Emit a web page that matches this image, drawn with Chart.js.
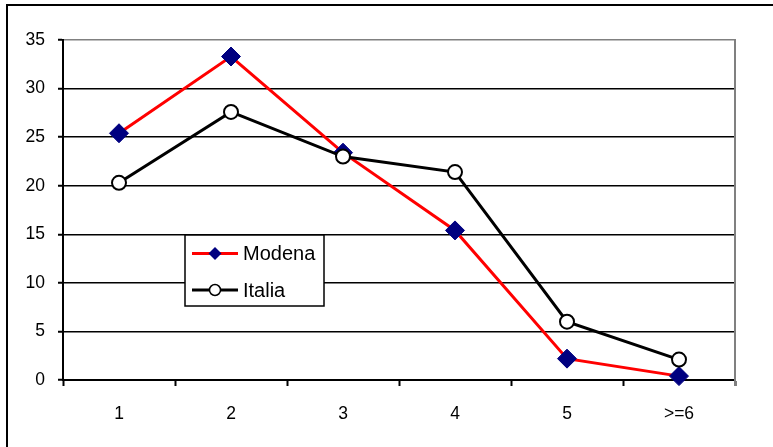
<!DOCTYPE html>
<html>
<head>
<meta charset="utf-8">
<script src="https://cdn.jsdelivr.net/npm/chart.js@4/dist/chart.umd.min.js"></script>
<style>
  html, body { margin: 0; padding: 0; background: #fff; }
  #wrap { width: 773px; height: 447px; }
</style>
</head>
<body>
<div id="wrap"><canvas id="c" width="773" height="447"></canvas></div>
<script>
// Categories and series
const categories = ['1', '2', '3', '4', '5', '>=6'];
const modena = [25.4, 33.3, 23.4, 15.4, 2.2, 0.4];
const italia = [20.3, 27.6, 23.0, 21.4, 6.0, 2.1];
const seriesNames = ['Modena', 'Italia'];
const yTicks = [0, 5, 10, 15, 20, 25, 30, 35];

const FONT = '"Liberation Sans", Arial, sans-serif';

// White page with the outer frame (top and left edges)
const frame = {
  id: 'frame',
  beforeDraw(chart) {
    const ctx = chart.ctx;
    ctx.save();
    ctx.fillStyle = '#fff';
    ctx.fillRect(0, 0, chart.width, chart.height);
    ctx.strokeStyle = '#000';
    ctx.lineWidth = 2;
    ctx.beginPath();
    ctx.moveTo(7, chart.height);
    ctx.lineTo(7, 5);
    ctx.lineTo(chart.width, 5);
    ctx.stroke();
    ctx.restore();
  },
  afterDatasetsDraw(chart) {
    // grey right edge of the plot area
    const a = chart.chartArea;
    const ctx = chart.ctx;
    ctx.save();
    ctx.strokeStyle = '#808080';
    ctx.lineWidth = 2;
    ctx.beginPath();
    ctx.moveTo(a.right, a.top - 1);
    ctx.lineTo(a.right, a.bottom + 6);
    ctx.stroke();
    ctx.restore();
  }
};

// Boxed legend with line + marker samples, placed inside the plot
const boxLegend = {
  id: 'boxLegend',
  afterDraw(chart) {
    const a = chart.chartArea;
    const ctx = chart.ctx;
    const x0 = a.left + 122, y0 = a.top + 195, w = 139, h = 71;
    ctx.save();
    ctx.fillStyle = '#fff';
    ctx.fillRect(x0, y0, w, h);
    ctx.strokeStyle = '#000';
    ctx.lineWidth = 1.5;
    ctx.strokeRect(x0, y0, w, h);
    const rows = [y0 + 18.5, y0 + 55];
    chart.data.datasets.forEach((ds, i) => {
      const y = rows[i];
      const lx1 = x0 + 7, lx2 = x0 + 53, cx = (lx1 + lx2) / 2;
      ctx.strokeStyle = ds.borderColor;
      ctx.lineWidth = 3;
      ctx.beginPath();
      ctx.moveTo(lx1, y);
      ctx.lineTo(lx2, y);
      ctx.stroke();
      if (ds.pointStyle === 'rectRot') {
        const r = 6.5;
        ctx.fillStyle = ds.pointBackgroundColor;
        ctx.beginPath();
        ctx.moveTo(cx, y - r);
        ctx.lineTo(cx + r, y);
        ctx.lineTo(cx, y + r);
        ctx.lineTo(cx - r, y);
        ctx.closePath();
        ctx.fill();
      } else {
        ctx.fillStyle = ds.pointBackgroundColor;
        ctx.strokeStyle = ds.pointBorderColor;
        ctx.lineWidth = 1.5;
        ctx.beginPath();
        ctx.arc(cx, y, 5.5, 0, Math.PI * 2);
        ctx.fill();
        ctx.stroke();
      }
      ctx.fillStyle = '#000';
      ctx.font = '20px ' + FONT;
      ctx.textAlign = 'left';
      ctx.textBaseline = 'middle';
      ctx.fillText(ds.label, x0 + 58, y + 1);
    });
    ctx.restore();
  }
};

new Chart(document.getElementById('c'), {
  type: 'line',
  data: {
    labels: categories,
    datasets: [
      {
        label: seriesNames[0],
        data: modena,
        borderColor: '#ff0000',
        borderWidth: 3,
        tension: 0,
        pointStyle: 'rectRot',
        pointRadius: 9.5,
        pointBackgroundColor: '#000080',
        pointBorderColor: '#000080',
        pointBorderWidth: 1,
        clip: false,
        order: 1
      },
      {
        label: seriesNames[1],
        data: italia,
        borderColor: '#000000',
        borderWidth: 3,
        tension: 0,
        pointStyle: 'circle',
        pointRadius: 7,
        pointBackgroundColor: '#ffffff',
        pointBorderColor: '#000000',
        pointBorderWidth: 2,
        clip: false,
        order: 0
      }
    ]
  },
  options: {
    responsive: false,
    animation: false,
    devicePixelRatio: 1,
    layout: { padding: { left: 0, top: 40, right: 38, bottom: 0 } },
    plugins: {
      legend: { display: false },
      tooltip: { enabled: false },
      title: { display: false }
    },
    scales: {
      x: {
        type: 'category',
        offset: true,
        grid: {
          offset: true,
          drawOnChartArea: false,
          drawTicks: true,
          tickLength: 6,
          tickColor: '#000',
          tickWidth: 2
        },
        border: { color: '#000', width: 2 },
        ticks: {
          color: '#000',
          padding: 18,
          maxRotation: 0,
          font: { family: FONT, size: 17.5 }
        },
        afterFit(scale) { scale.height = 67; }
      },
      y: {
        min: 0,
        max: 35,
        afterBuildTicks(scale) { scale.ticks = yTicks.map(v => ({ value: v })); },
        grid: {
          color: (c) => (c.tick && c.tick.value === 35 ? '#808080' : '#000'),
          lineWidth: 1.5,
          tickLength: 5,
          tickColor: '#000',
          tickWidth: 2
        },
        border: { color: '#000', width: 2 },
        ticks: {
          color: '#000',
          padding: 13,
          font: { family: FONT, size: 17.5 }
        },
        afterFit(scale) { scale.width = 63; }
      }
    }
  },
  plugins: [frame, boxLegend]
});
</script>
</body>
</html>
